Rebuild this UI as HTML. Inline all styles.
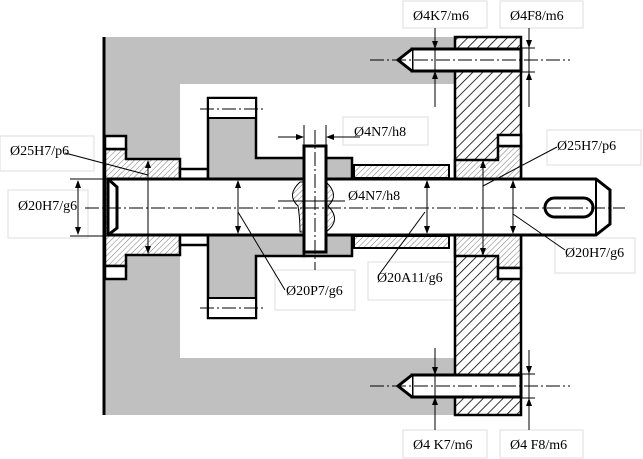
<!DOCTYPE html>
<html><head><style>html,body{margin:0;padding:0;background:#fff}svg{display:block}
text{font-family:"Liberation Serif",serif;font-size:14px;fill:#000}</style></head><body>
<svg width="643" height="459" viewBox="0 0 643 459" xmlns="http://www.w3.org/2000/svg">
<defs>
<pattern id="h1" width="7" height="7" patternUnits="userSpaceOnUse" patternTransform="rotate(45)"><rect width="7" height="7" fill="#fff"/><line x1="0" y1="0" x2="0" y2="7" stroke="#000" stroke-width="1.6"/></pattern>
<pattern id="h2" width="4" height="4" patternUnits="userSpaceOnUse" patternTransform="rotate(45)"><rect width="4" height="4" fill="#fff"/><line x1="0" y1="0" x2="0" y2="4" stroke="#555" stroke-width="0.8"/></pattern>
</defs>
<!-- label boxes -->
<g fill="none" stroke="#ddd" stroke-width="1">
<rect x="403" y="1" width="84" height="27"/><rect x="500" y="1" width="83" height="27"/>
<rect x="343" y="117" width="85" height="28"/><rect x="547" y="130" width="94" height="35"/>
<rect x="0" y="136" width="94" height="35"/><rect x="8" y="190" width="80" height="48"/>
<rect x="368" y="262" width="95" height="38"/><rect x="275" y="270" width="80" height="40"/>
<rect x="555" y="238" width="80" height="35"/>
<rect x="403" y="430" width="84" height="28"/><rect x="500" y="430" width="83" height="28"/>
</g>
<!-- housing gray -->
<path d="M104 37 H455 V84 H180 V358 H455 V415 H104 Z" fill="#c0c0c0"/>
<line x1="104" y1="37" x2="104" y2="415" stroke="#000" stroke-width="3"/>
<!-- right plate -->
<rect x="455" y="37" width="66" height="378" fill="url(#h1)" stroke="#000" stroke-width="2.5"/>
<!-- top pin -->
<path d="M412 49 H521 V71 H412 Z" fill="#fff" stroke="#000" stroke-width="3"/>
<path d="M412 49 L398 60 L412 71" fill="#fff" stroke="#000" stroke-width="3"/>
<path d="M412 375 H521 V397 H412 Z" fill="#fff" stroke="#000" stroke-width="3"/>
<path d="M412 375 L398 386 L412 397" fill="#fff" stroke="#000" stroke-width="3"/>
<!-- right bushing -->
<path d="M455 160 H498 V146 H521 V268 H498 V256 H455 Z" fill="url(#h2)" stroke="#000" stroke-width="2.5"/>
<rect x="498" y="135" width="23" height="11" fill="#fff" stroke="#000" stroke-width="2.5"/>
<rect x="498" y="268" width="23" height="11" fill="#fff" stroke="#000" stroke-width="2.5"/>
<!-- left bushing -->
<path d="M105 149 H126 V159 H180 V255 H126 V266 H105 Z" fill="url(#h2)" stroke="#000" stroke-width="2.5"/>
<rect x="105" y="136" width="21" height="13" fill="#fff" stroke="#000" stroke-width="2.5"/>
<rect x="105" y="266" width="21" height="13" fill="#fff" stroke="#000" stroke-width="2.5"/>
<!-- neck -->
<rect x="180" y="169" width="28" height="76" fill="#fff" stroke="#000" stroke-width="2.5"/>
<!-- gear -->
<path d="M208 98 H256 V158 H304 V256 H256 V318 H208 Z" fill="#c0c0c0" stroke="#000" stroke-width="2.5"/>
<rect x="208" y="98" width="48" height="20" fill="#fff" stroke="#000" stroke-width="2"/>
<rect x="208" y="298" width="48" height="20" fill="#fff" stroke="#000" stroke-width="2"/>
<rect x="304" y="158" width="48" height="98" fill="#c0c0c0" stroke="#000" stroke-width="2.5"/>
<!-- sleeve -->
<rect x="354" y="165" width="95" height="13" fill="url(#h2)" stroke="#000" stroke-width="2"/>
<rect x="354" y="236" width="95" height="12" fill="url(#h2)" stroke="#000" stroke-width="2"/>
<!-- shaft -->
<path d="M108 179 H596 L610 190 V224 L596 235 H108 Z" fill="#fff" stroke="#000" stroke-width="3"/>
<line x1="596" y1="179" x2="596" y2="235" stroke="#000" stroke-width="2"/>
<path d="M108 179 L117 187 V228 L108 235" fill="none" stroke="#000" stroke-width="3"/>
<rect x="545" y="198" width="48" height="19" rx="9.5" fill="#fff" stroke="#000" stroke-width="3"/>
<path d="M300 182 Q286 195 298 206 Q300 218 300 232 L304 232 V182 Z" fill="url(#h2)" stroke="#000" stroke-width="1"/>
<path d="M326 182 Q340 195 328 206 Q342 220 326 232 Z" fill="url(#h2)" stroke="#000" stroke-width="1"/>
<!-- pin -->
<rect x="304" y="146" width="22" height="106" fill="#fff" stroke="#000" stroke-width="3"/>
<!-- centerlines -->
<g stroke="#000" stroke-width="1" stroke-dasharray="14,3,2,3" fill="none">
<line x1="85" y1="208" x2="625" y2="208"/>
<line x1="200" y1="109" x2="265" y2="109"/><line x1="200" y1="308" x2="265" y2="308"/>
<line x1="315" y1="130" x2="315" y2="270"/>
<line x1="370" y1="60" x2="570" y2="60"/><line x1="370" y1="386" x2="570" y2="386"/>
</g>
<!-- dimension lines -->
<g stroke="#000" stroke-width="1" fill="none">
<line x1="70" y1="179" x2="108" y2="179"/><line x1="70" y1="236" x2="108" y2="236"/>
<line x1="78" y1="181" x2="78" y2="234"/>
<line x1="148" y1="162" x2="148" y2="252"/>
<line x1="238" y1="181" x2="238" y2="233"/>
<line x1="427" y1="181" x2="427" y2="233"/>
<line x1="483" y1="162" x2="483" y2="254"/>
<line x1="513" y1="181" x2="513" y2="233"/>
<line x1="435" y1="28" x2="435" y2="107"/><line x1="529" y1="28" x2="529" y2="107"/>
<line x1="521" y1="48" x2="535" y2="48"/><line x1="521" y1="72" x2="535" y2="72"/>
<line x1="435" y1="348" x2="435" y2="430"/><line x1="529" y1="350" x2="529" y2="430"/>
<line x1="521" y1="374" x2="535" y2="374"/><line x1="521" y1="398" x2="535" y2="398"/>
<line x1="278" y1="137" x2="300" y2="137"/><line x1="330" y1="137" x2="360" y2="137"/>
<line x1="304" y1="125" x2="304" y2="145"/><line x1="326" y1="125" x2="326" y2="145"/>
<line x1="278" y1="201" x2="345" y2="201"/>
<line x1="65" y1="153" x2="148" y2="175"/>
<line x1="238" y1="212" x2="285" y2="290"/>
<line x1="425" y1="212" x2="378" y2="276"/>
<line x1="483" y1="186" x2="557" y2="147"/>
<line x1="513" y1="214" x2="565" y2="250"/>
</g>
<g fill="#000">
<path d="M78 180 l-3 8 h6z"/><path d="M78 235 l-3 -8 h6z"/>
<path d="M148 160 l-3 8 h6z"/><path d="M148 254 l-3 -8 h6z"/>
<path d="M238 180 l-3 8 h6z"/><path d="M238 234 l-3 -8 h6z"/>
<path d="M427 180 l-3 8 h6z"/><path d="M427 234 l-3 -8 h6z"/>
<path d="M483 160 l-3 8 h6z"/><path d="M483 256 l-3 -8 h6z"/>
<path d="M513 180 l-3 8 h6z"/><path d="M513 234 l-3 -8 h6z"/>
<path d="M435 49 l-3 -8 h6z"/><path d="M435 71 l-3 8 h6z"/>
<path d="M529 48 l-3 -8 h6z"/><path d="M529 72 l-3 8 h6z"/>
<path d="M435 375 l-3 -8 h6z"/><path d="M435 397 l-3 8 h6z"/>
<path d="M529 374 l-3 -8 h6z"/><path d="M529 398 l-3 8 h6z"/>
<path d="M304 137 l-8 -3 v6z"/><path d="M326 137 l8 -3 v6z"/>
</g>
<text x="413" y="20">Ø4K7/m6</text><text x="510" y="20">Ø4F8/m6</text>
<text x="354" y="136">Ø4N7/h8</text>
<text x="557" y="150">Ø25H7/p6</text>
<text x="10" y="155">Ø25H7/p6</text>
<text x="18" y="210">Ø20H7/g6</text>
<text x="348" y="200">Ø4N7/h8</text>
<text x="565" y="257">Ø20H7/g6</text>
<text x="377" y="282">Ø20A11/g6</text>
<text x="286" y="295">Ø20P7/g6</text>
<text x="413" y="449">Ø4 K7/m6</text><text x="510" y="449">Ø4 F8/m6</text>
</svg>
</body></html>
